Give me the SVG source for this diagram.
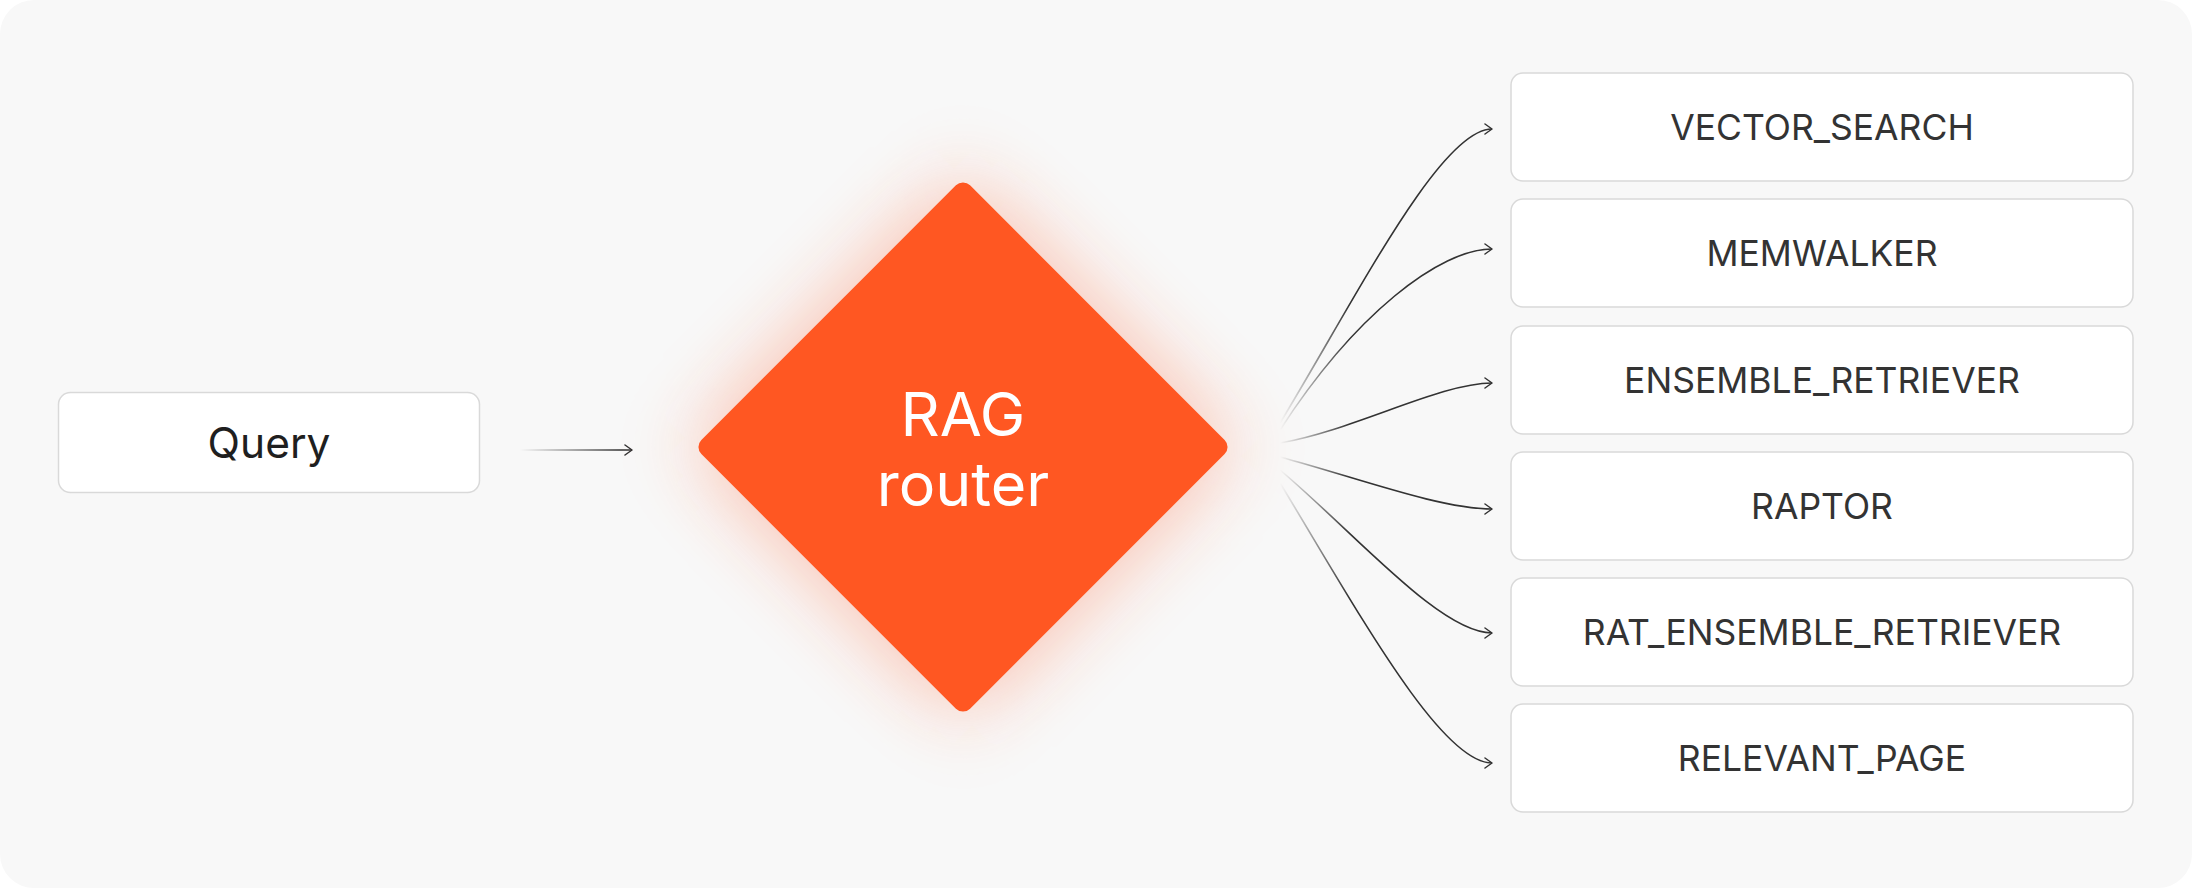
<svg xmlns="http://www.w3.org/2000/svg" width="2192" height="888" viewBox="0 0 2192 888">
  <style>
    .box { fill: #ffffff; stroke: #d9d9d9; stroke-width: 1.5; }
    .lbl { font-family: Inter, "Liberation Sans", sans-serif; font-size: 35.5px; fill: #333333; text-anchor: middle; }
    .qlbl { font-family: Inter, "Liberation Sans", sans-serif; font-size: 42.5px; fill: #1f1f1f; text-anchor: middle; }
    .rlbl { font-family: Inter, "Liberation Sans", sans-serif; font-size: 61px; fill: #ffffff; text-anchor: middle; }
    .conn { fill: none; stroke: url(#fadeR); stroke-width: 1.6; marker-end: url(#arrow); }
  </style>
  <defs>
    <marker id="arrow" viewBox="0 0 12 12" refX="11" refY="6" markerWidth="12" markerHeight="12" markerUnits="userSpaceOnUse" orient="auto">
      <path d="M4 1 L11 6 L4 11" fill="none" stroke="#333333" stroke-width="1.5" stroke-linecap="round" stroke-linejoin="round"/>
    </marker>
    <linearGradient id="fadeR" gradientUnits="userSpaceOnUse" x1="1280" y1="0" x2="1350" y2="0">
      <stop offset="0" stop-color="#333333" stop-opacity="0"/>
      <stop offset="1" stop-color="#333333" stop-opacity="1"/>
    </linearGradient>
    <linearGradient id="fadeQ" gradientUnits="userSpaceOnUse" x1="520" y1="0" x2="620" y2="0">
      <stop offset="0" stop-color="#333333" stop-opacity="0"/>
      <stop offset="1" stop-color="#333333" stop-opacity="1"/>
    </linearGradient>
    <filter id="glow" x="-60%" y="-60%" width="220%" height="220%">
      <feGaussianBlur stdDeviation="42"/>
    </filter>
  </defs>

  <rect x="0" y="0" width="2192" height="888" rx="34" fill="#f8f8f8"/>

  <g id="connectors">
    <path d="M520 450 L632 450" fill="none" stroke="url(#fadeQ)" stroke-width="1.5" marker-end="url(#arrow)"/>
    <path class="conn" d="M1280 423 C1355 300 1440 129 1492 129"/>
    <path class="conn" d="M1280 430 C1355 314 1440 249 1492 249"/>
    <path class="conn" d="M1280 443 C1355 430 1440 383 1492 383"/>
    <path class="conn" d="M1280 457 C1355 477 1440 509 1492 509"/>
    <path class="conn" d="M1280 470 C1355 533 1440 633 1492 633"/>
    <path class="conn" d="M1280 483 C1355 606 1440 763 1492 763"/>
  </g>

  <g id="query">
    <rect class="box" x="58.5" y="392.5" width="421" height="100" rx="12"/>
    <text class="qlbl" x="269" y="458">Query</text>
  </g>

  <g id="rag-router">
    <rect x="773" y="257" width="380" height="380" rx="10" fill="#ff5722" opacity="0.38" filter="url(#glow)" transform="rotate(45 963 447)"/>
    <rect x="773" y="257" width="380" height="380" rx="10" fill="#ff5722" transform="rotate(45 963 447)"/>
    <text class="rlbl" x="963" y="436">RAG</text>
    <text class="rlbl" x="963" y="506">router</text>
  </g>

  <g id="vector-search">
    <rect class="box" x="1511" y="73" width="622" height="108" rx="12"/>
    <text class="lbl" x="1822" y="140">VECTOR_SEARCH</text>
  </g>
  <g id="memwalker">
    <rect class="box" x="1511" y="199" width="622" height="108" rx="12"/>
    <text class="lbl" x="1822" y="266">MEMWALKER</text>
  </g>
  <g id="ensemble-retriever">
    <rect class="box" x="1511" y="326" width="622" height="108" rx="12"/>
    <text class="lbl" x="1822" y="393">ENSEMBLE_RETRIEVER</text>
  </g>
  <g id="raptor">
    <rect class="box" x="1511" y="452" width="622" height="108" rx="12"/>
    <text class="lbl" x="1822" y="519">RAPTOR</text>
  </g>
  <g id="rat-ensemble-retriever">
    <rect class="box" x="1511" y="578" width="622" height="108" rx="12"/>
    <text class="lbl" x="1822" y="645">RAT_ENSEMBLE_RETRIEVER</text>
  </g>
  <g id="relevant-page">
    <rect class="box" x="1511" y="704" width="622" height="108" rx="12"/>
    <text class="lbl" x="1822" y="771">RELEVANT_PAGE</text>
  </g>
</svg>
